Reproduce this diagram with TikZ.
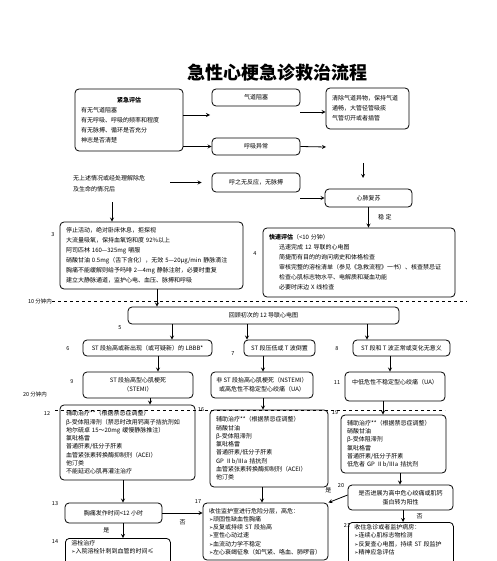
\documentclass[tikz,border=0pt]{standalone}
\usepackage{fontspec}
\setmainfont{Noto Sans CJK SC}
\newfontfamily\symfont{DejaVu Sans}
\newcommand{\tri}{{\symfont\fontsize{5}{5}\selectfont ➢}}
\newcommand{\ind}{\hspace*{10pt}}
\tikzset{x=1pt, y=-1pt, every node/.append style={font=\fontsize{6}{10}\selectfont},
    box/.style={draw, rounded corners=4pt, line width=0.8pt, inner xsep=6pt, inner ysep=2pt, align=left},
    tight/.style={font=\fontsize{6}{8.3}\selectfont},
    num/.style={font=\fontsize{5.5}{6}\selectfont, inner sep=0pt},
    arr/.style={line width=0.8pt, -stealth},
    sep/.style={dashed, line width=0.6pt}}

\begin{document}
\begin{tikzpicture}
    \useasboundingbox (0,0) rectangle (496,561);
    \clip (0,0) rectangle (496,561);
    \node[font=\fontsize{18}{18}\selectfont\bfseries] (title) at (277,73) {急性心梗急诊救治流程};

    \node[box, minimum width=108, minimum height=62, text width=96] (jj) at (129,120)
        {\makebox[96pt]{\bfseries 紧急评估}\\有无气道阻塞\\有无呼吸、呼吸的频率和程度\\有无脉搏、循环是否充分\\神志是否清楚};
    \node[box, align=center, minimum width=88, minimum height=17] (qd) at (256,97.5) {气道阻塞};
    \node[box, minimum width=83, minimum height=41, text width=71] (qc) at (367.5,108.5)
        {清除气道异物，保持气道\\通畅，大管径管吸痰\\气管切开或者插管};
    \node[box, align=center, minimum width=88, minimum height=17] (hx) at (256,146.5) {呼吸异常};
    \node[align=left, anchor=west, inner sep=0pt, font=\fontsize{6}{11}\selectfont] (wq) at (73,183.5)
        {无上述情况或经处理解除危\\及生命的情况后};
    \node[box, align=center, minimum width=88, minimum height=19] (hz) at (256,182.5) {呼之无反应，无脉搏};
    \node[box, align=center, minimum width=87, minimum height=18] (xf) at (368.5,198) {心肺复苏};

    \node[box, minimum width=183, minimum height=67, text width=171] (b3) at (151.5,255.5)
        {停止活动，绝对卧床休息，拒探视\\大流量吸氧，保持血氧饱和度 92\%以上\\阿司匹林 160—325mg 嚼服\\
         硝酸甘油 0.5mg（舌下含化），无效 5—20μg/min 静脉滴注\\胸痛不能缓解则给予吗啡 2—4mg 静脉注射，必要时重复\\
         建立大静脉通道，监护心电、血压、脉搏和呼吸};
    \node[box, minimum width=192, minimum height=69, text width=180] (b4) at (359,262.5)
        {{\bfseries 快速评估}（<10 分钟）\\\ind 迅速完成 12 导联的心电图\\\ind 简捷而有目的的询问病史和体格检查\\
         \ind 审核完整的溶栓清单（参见《急救流程》一书）、核查禁忌证\\\ind 检查心肌标志物水平、电解质和凝血功能\\
         \ind 必要时床边 X 线检查};
    \node[box, align=center, minimum width=271, minimum height=17] (b5) at (263.5,315.5) {回顾初次的 12 导联心电图};

    \node[box, align=center, inner xsep=2pt, minimum width=129, minimum height=16] (b6) at (147.5,348)
        {ST 段抬高或新出现（或可疑新）的 LBBB*};
    \node[box, align=center, inner xsep=2pt, minimum width=71, minimum height=16] (b7) at (279.5,348)
        {ST 段压低或 T 波倒置};
    \node[box, align=center, inner xsep=2pt, minimum width=97, minimum height=16] (b8) at (401.5,348)
        {ST 段和 T 波正常或变化无意义};
    \node[box, align=center, minimum width=110, minimum height=26, font=\fontsize{6}{9}\selectfont] (b9) at (138,385)
        {ST 段抬高型心肌梗死\\（STEMI）};
    \node[box, align=center, inner xsep=2pt, minimum width=102, minimum height=26, font=\fontsize{6}{9}\selectfont] (b10) at (262,385)
        {非 ST 段抬高心肌梗死（NSTEMI）\\或高危性不稳定型心绞痛（UA）};
    \node[box, align=center, inner xsep=2pt, minimum width=100, minimum height=29] (b11) at (395,386.5)
        {中低危性不稳定型心绞痛（UA）\\\mbox{}};

    \node[box, tight, minimum width=135, minimum height=75, text width=123] (b12) at (127.5,442.5)
        {辅助治疗**（根据禁忌症调整）\\β-受体阻滞剂（禁忌时改用钙离子拮抗剂如\\地尔硫卓 15～20mg 缓慢静脉推注）\\氯吡格雷\\
         普通肝素/低分子肝素\\血管紧张素转换酶抑制剂（ACEI）\\他汀类\\不能延迟心肌再灌注治疗};
    \node[box, tight, minimum width=118, minimum height=77, text width=106] (b16) at (269,448.5)
        {辅助治疗**（根据禁忌症调整）\\硝酸甘油\\β-受体阻滞剂\\氯吡格雷\\普通肝素/低分子肝素\\
         GP Ⅱb/Ⅲa 拮抗剂\\血管紧张素转换酶抑制剂（ACEI）\\他汀类};
    \node[box, tight, minimum width=105, minimum height=58, text width=93] (b19) at (393.5,444)
        {辅助治疗**（根据禁忌症调整）\\硝酸甘油\\β-受体阻滞剂\\氯吡格雷\\普通肝素/低分子肝素\\低危者 GP Ⅱb/Ⅲa 拮抗剂};
    \node[box, align=center, inner xsep=2pt, minimum width=105, minimum height=25, font=\fontsize{6}{9}\selectfont] (b20) at (400.5,497.5)
        {是否进展为高中危心绞痛或肌钙\\蛋白转为阳性};

    \node[box, align=center, minimum width=97, minimum height=20] (b13) at (113.5,513) {胸痛发作时间<12 小时};
    \node[box, tight, minimum width=125, minimum height=57, text width=113] (b17) at (265.5,531.5)
        {收住监护室进行危险分层，高危：\\\tri 顽固性缺血性胸痛\\\tri 反复或持续 ST 段抬高\\\tri 室性心动过速\\
         \tri 血流动力学不稳定\\\tri 左心衰竭征象（如气紧、咯血、肺啰音）};
    \node[box, tight, anchor=north west, text width=93] (b21) at (348,522)
        {收住急诊或者监护病房：\\\tri 连续心肌标志物检测\\\tri 反复查心电图，持续 ST 段监护\\\tri 精神应急评估\\\mbox{}\\\mbox{}};
    \node[box, tight, anchor=north west, text width=93] (b14) at (65,538)
        {溶栓治疗\\\tri 入院溶栓针刺到血管的时间≤\\\mbox{}\\\mbox{}};

    \foreach \n/\x/\y in {3/53/235, 4/255/254, 5/120/328, 6/68/349, 7/233/354, 8/337/349, 9/72/382,
        11/337/383, 12/47/413, 13/55/504, 14/55/542, 16/201/410, 17/198/502, 19/335/413, 20/341/486, 21/347/525}
        \node[num] (n\n) at (\x,\y) {\n};

    \node[num] (t10) at (40,301) {10 分钟内};
    \node[num] (t20) at (35,394) {20 分钟内};
    \coordinate (d1) at (467,301);
    \coordinate (d2a) at (55,410);
    \coordinate (d2b) at (445,410);
    \draw[sep] (t10.east) -- (d1);
    \draw[sep] (d2a) -- (d2b);

    \coordinate (a1) at (210,115);
    \coordinate (a3) at (300,112);
    \coordinate (a4) at (326,147);
    \coordinate (a6) at (112,202);
    \coordinate (a8s) at (363,163);
    \coordinate (a8e) at (363,178);
    \draw[arr] (jj.east |- a1) -- (a1);
    \draw[arr] (jj.east |- hx.west) -- (hx.west);
    \draw[arr] (a3) -- (a3 -| qc.west);
    \draw[arr] (hx.east) -- (a4);
    \draw[arr] ([xshift=25pt]wq.east |- hz.west) -- ([xshift=-10pt]hz.west);
    \draw[arr] (a6) -- (a6 |- b3.north);
    \draw[arr] (hz.east |- xf.west) -- (xf.west);
    \draw[arr] (a8s) -- (a8e);
    \draw[arr] (xf.south) -- (xf.south |- b4.north) node[midway, right=6pt] (wd) {稳\ 定};
    \draw[arr] ([xshift=5.5pt]b3.south) -- ([xshift=5.5pt]b3.south |- b5.north);
    \foreach \x in {172,247,367}
        \draw[arr] (b5.south -| \x,0) -- (b6.north -| \x,0);
    \draw[arr] (b6.south -| 158,0) -- (b9.north -| 158,0);
    \draw[arr] (b7.south -| 263,0) -- (b10.north -| 263,0);
    \draw[arr] (b8.south -| 390,0) -- (b11.north -| 390,0);
    \draw[arr] (b9.south -| 150,0) -- (b12.north -| 150,0);
    \draw[arr] (b10.south -| 263,0) -- (b16.north -| 263,0);
    \draw[arr] (b11.south -| 383,0) -- (b19.north -| 383,0);
    \draw[arr] (b12.south -| 123,0) -- (b13.north -| 123,0);
    \draw[arr] (b13.east) -- (b13.east -| b17.west) node[midway, below=3pt] (no1) {否};
    \draw[arr] (b13.south -| 123,0) -- (b14.north -| 123,0) node[midway, left=10pt] (yes1) {是};
    \draw[arr] (b16.south -| 262,0) -- (b17.north -| 262,0);
    \draw[arr] (b19.south -| 400,0) -- (b20.north -| 400,0);
    \draw[arr] (b20.west |- 0,495) -- (b17.north east) node[pos=1, above=6pt] (yes2) {是};
    \draw[arr] (b20.south -| 403,0) -- (b21.north -| 403,0) node[midway, right=10pt] (no2) {否};
\end{tikzpicture}
\end{document}
